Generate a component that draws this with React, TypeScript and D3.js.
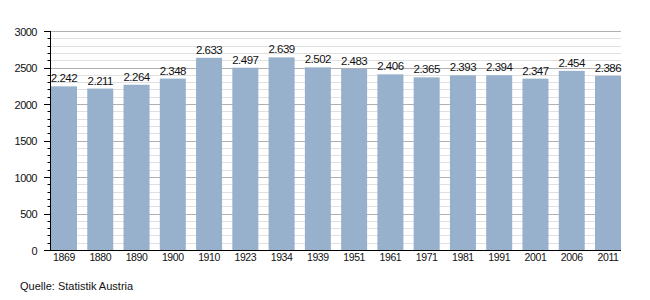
import React from "react";
import * as d3 from "d3";

const years = ["1869","1880","1890","1900","1910","1923","1934","1939","1951","1961","1971","1981","1991","2001","2006","2011"];
const population = [2242,2211,2264,2348,2633,2497,2639,2502,2483,2406,2365,2393,2394,2347,2454,2386];
const yTicks = [0,500,1000,1500,2000,2500,3000];
const sourceText = "Quelle: Statistik Austria";

const W = 650, H = 300;
const left = 50, right = 621, top = 31, bottom = 250;
const font = "'Liberation Sans', Arial, sans-serif";

export default function App() {
  const y = d3.scaleLinear().domain([0, 3000]).range([bottom, top]);
  const x = d3.scaleBand<string>().domain(years).range([left + 1, right]).paddingInner(0.283).paddingOuter(0);
  const bw = x.bandwidth();
  const minor = d3.range(0, 3001, 100);
  const fmt = (v: number) => d3.format(",")(v).replace(/,/g, ".");
  return (
    <svg width={W} height={H} style={{ position: "absolute", left: 0, top: 0 }} fontFamily={font}>
      <rect width={W} height={H} fill="#fff" />
      {minor.filter(v => v % 500 !== 0).map(v => (
        <line key={"m" + v} x1={left} x2={right} y1={Math.round(y(v)) + 0.5} y2={Math.round(y(v)) + 0.5} stroke="#e0e0e0" />
      ))}
      {yTicks.map(v => (
        <line key={"g" + v} x1={left} x2={right} y1={Math.round(y(v)) + 0.5} y2={Math.round(y(v)) + 0.5} stroke="#b0b0b0" />
      ))}
      {years.map((yr, i) => (
        <rect key={yr} x={x(yr)} y={y(population[i])} width={bw} height={bottom - y(population[i])} fill="#97b0cb" />
      ))}
      {years.map((yr, i) => (
        <text key={"v" + yr} x={(x(yr) as number) + bw / 2} y={y(population[i]) - 4} textAnchor="middle" fontSize={11.5} letterSpacing={-0.5} fill="#111">{fmt(population[i])}</text>
      ))}
      {minor.map(v => (
        <line key={"t" + v} x1={v % 500 === 0 ? 44 : 47.5} x2={left} y1={Math.round(y(v)) + 0.5} y2={Math.round(y(v)) + 0.5} stroke="#000" />
      ))}
      <line x1={left + 0.5} x2={left + 0.5} y1={top} y2={bottom} stroke="#000" />
      <line x1={left} x2={right} y1={bottom + 0.5} y2={bottom + 0.5} stroke="#000" />
      {yTicks.map(v => (
        <text key={"yl" + v} x={37} y={y(v) + 4.5} textAnchor="end" fontSize={11} letterSpacing={-0.5} fill="#111">{v}</text>
      ))}
      {years.map(yr => (
        <text key={"xl" + yr} x={(x(yr) as number) + bw / 2} y={261} textAnchor="middle" fontSize={10.5} letterSpacing={-0.4} fill="#111">{yr}</text>
      ))}
      <text x={20} y={290} fontSize={11} fill="#111">{sourceText}</text>
    </svg>
  );
}
